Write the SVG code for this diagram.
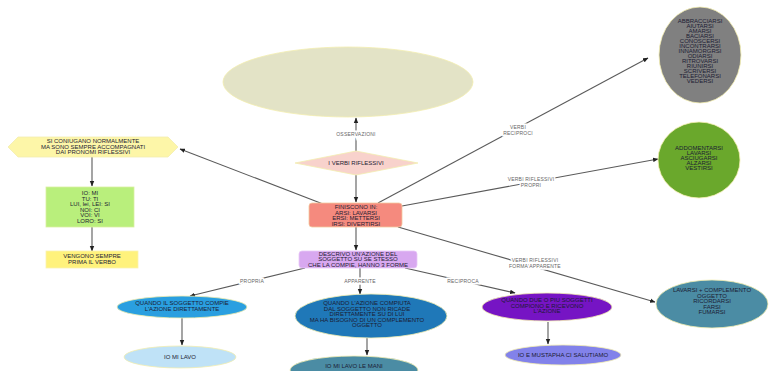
<svg xmlns="http://www.w3.org/2000/svg" width="774" height="371" viewBox="0 0 774 371">
  <style>
    text { font-family: "Liberation Sans", Arial, sans-serif; font-size: 6px; fill: #1b1b33; text-anchor: middle; }
    .lbl { font-size: 5px; fill: #666; stroke: #fff; stroke-width: 3px; paint-order: stroke; letter-spacing: 0.2px; }
    .edge { stroke: #5a5a5a; stroke-width: 1.1; fill: none; }
    .arr { marker-end: url(#ah); }
    .node { stroke: #f2eeb0; stroke-width: 0.8; }
  </style>
  <defs>
    <marker id="ah" viewBox="0 0 10 10" refX="9" refY="5" markerWidth="5" markerHeight="5" orient="auto-start-reverse">
      <path d="M0,1 L10,5 L0,9 z" fill="#222"/>
    </marker>
  </defs>
  <rect width="774" height="371" fill="#fff"/>

  <!-- connectors -->
  <g id="connectors">
    <line class="edge arr" x1="356" y1="151" x2="356" y2="118"/>
    <line class="edge arr" x1="356" y1="175" x2="356" y2="202"/>
    <line class="edge arr" x1="323" y1="204" x2="180" y2="149"/>
    <line class="edge arr" x1="378" y1="203" x2="648" y2="58"/>
    <line class="edge arr" x1="402" y1="206" x2="658" y2="159"/>
    <line class="edge arr" x1="398" y1="227" x2="655" y2="302"/>
    <line class="edge arr" x1="356" y1="227" x2="356" y2="250"/>
    <line class="edge arr" x1="92" y1="157" x2="92" y2="186"/>
    <line class="edge arr" x1="92" y1="227" x2="92" y2="251"/>
    <line class="edge arr" x1="305" y1="268" x2="190" y2="296"/>
    <line class="edge arr" x1="360" y1="268" x2="360" y2="294"/>
    <line class="edge arr" x1="405" y1="268" x2="515" y2="293"/>
    <line class="edge arr" x1="182" y1="318" x2="182" y2="345"/>
    <line class="edge arr" x1="367" y1="338" x2="367" y2="355"/>
    <line class="edge arr" x1="548" y1="322" x2="548" y2="344"/>
    <text class="lbl" x="356" y="136">OSSERVAZIONI</text>
    <text class="lbl" x="518" y="129">VERBI</text>
    <text class="lbl" x="518" y="135">RECIPROCI</text>
    <text class="lbl" x="531" y="181">VERBI RIFLESSIVI</text>
    <text class="lbl" x="531" y="187">PROPRI</text>
    <text class="lbl" x="535" y="262">VERBI RIFLESSIVI</text>
    <text class="lbl" x="535" y="268">FORMA APPARENTE</text>
    <text class="lbl" x="252" y="283">PROPRIA</text>
    <text class="lbl" x="360" y="283">APPARENTE</text>
    <text class="lbl" x="463" y="283">RECIPROCA</text>
  </g>

  <g id="osservazioni">
    <ellipse class="node" cx="348" cy="82" rx="125" ry="35" fill="#e3e3c6"/>
  </g>

  <g id="verbi-riflessivi">
    <polygon class="node" points="295,163 356,151 418,163 356,175" fill="#f8d2cc"/>
    <text x="356" y="165" fill="#6b2a2a">I VERBI RIFLESSIVI</text>
  </g>

  <g id="finiscono">
    <rect x="309" y="203" width="93" height="24" rx="3" fill="#f58a7e" stroke="#f3c9a0" stroke-width="0.8"/>
    <text x="356" y="209">FINISCONO IN:</text>
    <text x="356" y="214.5">ARSI: LAVARSI</text>
    <text x="356" y="220">ERSI: METTERSI</text>
    <text x="356" y="225.5">IRSI: DIVERTIRSI</text>
  </g>

  <g id="coniugano">
    <polygon class="node" points="8,147 18,137 168,137 178,147 168,157 18,157" fill="#fdf6a8"/>
    <text x="93" y="143">SI CONIUGANO NORMALMENTE</text>
    <text x="93" y="148.5">MA SONO SEMPRE ACCOMPAGNATI</text>
    <text x="93" y="154">DAI PRONOMI RIFLESSIVI</text>
  </g>

  <g id="pronomi">
    <rect x="46" y="187" width="88" height="40" fill="#b9ef7c" stroke="#d9f0a0" stroke-width="0.8"/>
    <text x="90" y="195">IO: MI</text>
    <text x="90" y="200.5">TU: TI</text>
    <text x="90" y="206">LUI, lei, LEI: SI</text>
    <text x="90" y="211.5">NOI: CI</text>
    <text x="90" y="217">VOI: VI</text>
    <text x="90" y="222.5">LORO: SI</text>
  </g>

  <g id="prima-verbo">
    <rect x="46" y="251" width="92" height="17" fill="#fff27c" stroke="#fbf3b0" stroke-width="0.8"/>
    <text x="92" y="258">VENGONO SEMPRE</text>
    <text x="92" y="264">PRIMA IL VERBO</text>
  </g>

  <g id="reciproci">
    <ellipse class="node" cx="700" cy="55" rx="41" ry="48" fill="#808080"/>
    <text x="700" y="23">ABBRACCIARSI</text>
    <text x="700" y="28">AIUTARSI</text>
    <text x="700" y="33">AMARSI</text>
    <text x="700" y="38">BACIARSI</text>
    <text x="700" y="43">CONOSCERSI</text>
    <text x="700" y="48">INCONTRARSI</text>
    <text x="700" y="53">INNAMORGRSI</text>
    <text x="700" y="58">ODIARSI</text>
    <text x="700" y="63">RITROVARSI</text>
    <text x="700" y="68">RIUNIRSI</text>
    <text x="700" y="73">SCRIVERSI</text>
    <text x="700" y="78">TELEFONARSI</text>
    <text x="700" y="83">VEDERSI</text>
  </g>

  <g id="propri">
    <ellipse class="node" cx="699" cy="160" rx="41" ry="38" fill="#6aa82c"/>
    <text x="699" y="150">ADDOMENTARSI</text>
    <text x="699" y="155">LAVARSI</text>
    <text x="699" y="160">ASCIUGARSI</text>
    <text x="699" y="165">ALZARSI</text>
    <text x="699" y="170">VESTIRSI</text>
  </g>

  <g id="apparente-verbi">
    <ellipse class="node" cx="712" cy="304" rx="56" ry="24" fill="#4b8ca4"/>
    <text x="712" y="292">LAVARSI + COMPLEMENTO</text>
    <text x="712" y="297.5">OGGETTO</text>
    <text x="712" y="303">RICORDARSI</text>
    <text x="712" y="308.5">FARSI</text>
    <text x="712" y="314">FUMARSI</text>
  </g>

  <g id="descrivo">
    <rect x="299" y="251" width="118" height="17" rx="3" fill="#d8a8f0" stroke="#e8c8f8" stroke-width="0.8"/>
    <text x="358" y="256">DESCRIVO UN'AZIONE DEL</text>
    <text x="358" y="261">SOGGETTO SU SE STESSO</text>
    <text x="358" y="266.5">CHE LA COMPIE, HANNO 3 FORME</text>
  </g>

  <g id="propria">
    <ellipse class="node" cx="182" cy="307" rx="65" ry="11" fill="#2a9fe0"/>
    <text x="182" y="305">QUANDO IL SOGGETTO COMPIE</text>
    <text x="182" y="311">L'AZIONE DIRETTAMENTE</text>
  </g>

  <g id="io-mi-lavo">
    <ellipse class="node" cx="180" cy="357" rx="56" ry="11" fill="#bfe2f7"/>
    <text x="180" y="359">IO MI LAVO</text>
  </g>

  <g id="apparente">
    <ellipse class="node" cx="371" cy="316" rx="76" ry="22" fill="#1f78b8"/>
    <text x="367" y="305">QUANDO L'AZIONE COMPIUTA</text>
    <text x="367" y="310.5">DAL SOGGETTO NON RICADE</text>
    <text x="367" y="316">DIRETTAMENTE SU DI LUI</text>
    <text x="367" y="321.5">MA HA BISOGNO DI UN COMPLEMENTO</text>
    <text x="367" y="327">OGGETTO</text>
  </g>

  <g id="io-mi-lavo-le-mani">
    <ellipse class="node" cx="354" cy="370" rx="64" ry="14" fill="#4b8ca4"/>
    <text x="354" y="368">IO MI LAVO LE MANI</text>
  </g>

  <g id="reciproca">
    <ellipse class="node" cx="547" cy="307" rx="65" ry="14" fill="#7614c4"/>
    <text x="547" y="302">QUANDO DUE O PIU SOGGETTI</text>
    <text x="547" y="307.5">COMPIONO E RICEVONO</text>
    <text x="547" y="313">L'AZIONE</text>
  </g>

  <g id="mustapha">
    <ellipse class="node" cx="563" cy="355" rx="58" ry="10" fill="#8282ea"/>
    <text x="563" y="357">IO E MUSTAPHA CI SALUTIAMO</text>
  </g>
</svg>
